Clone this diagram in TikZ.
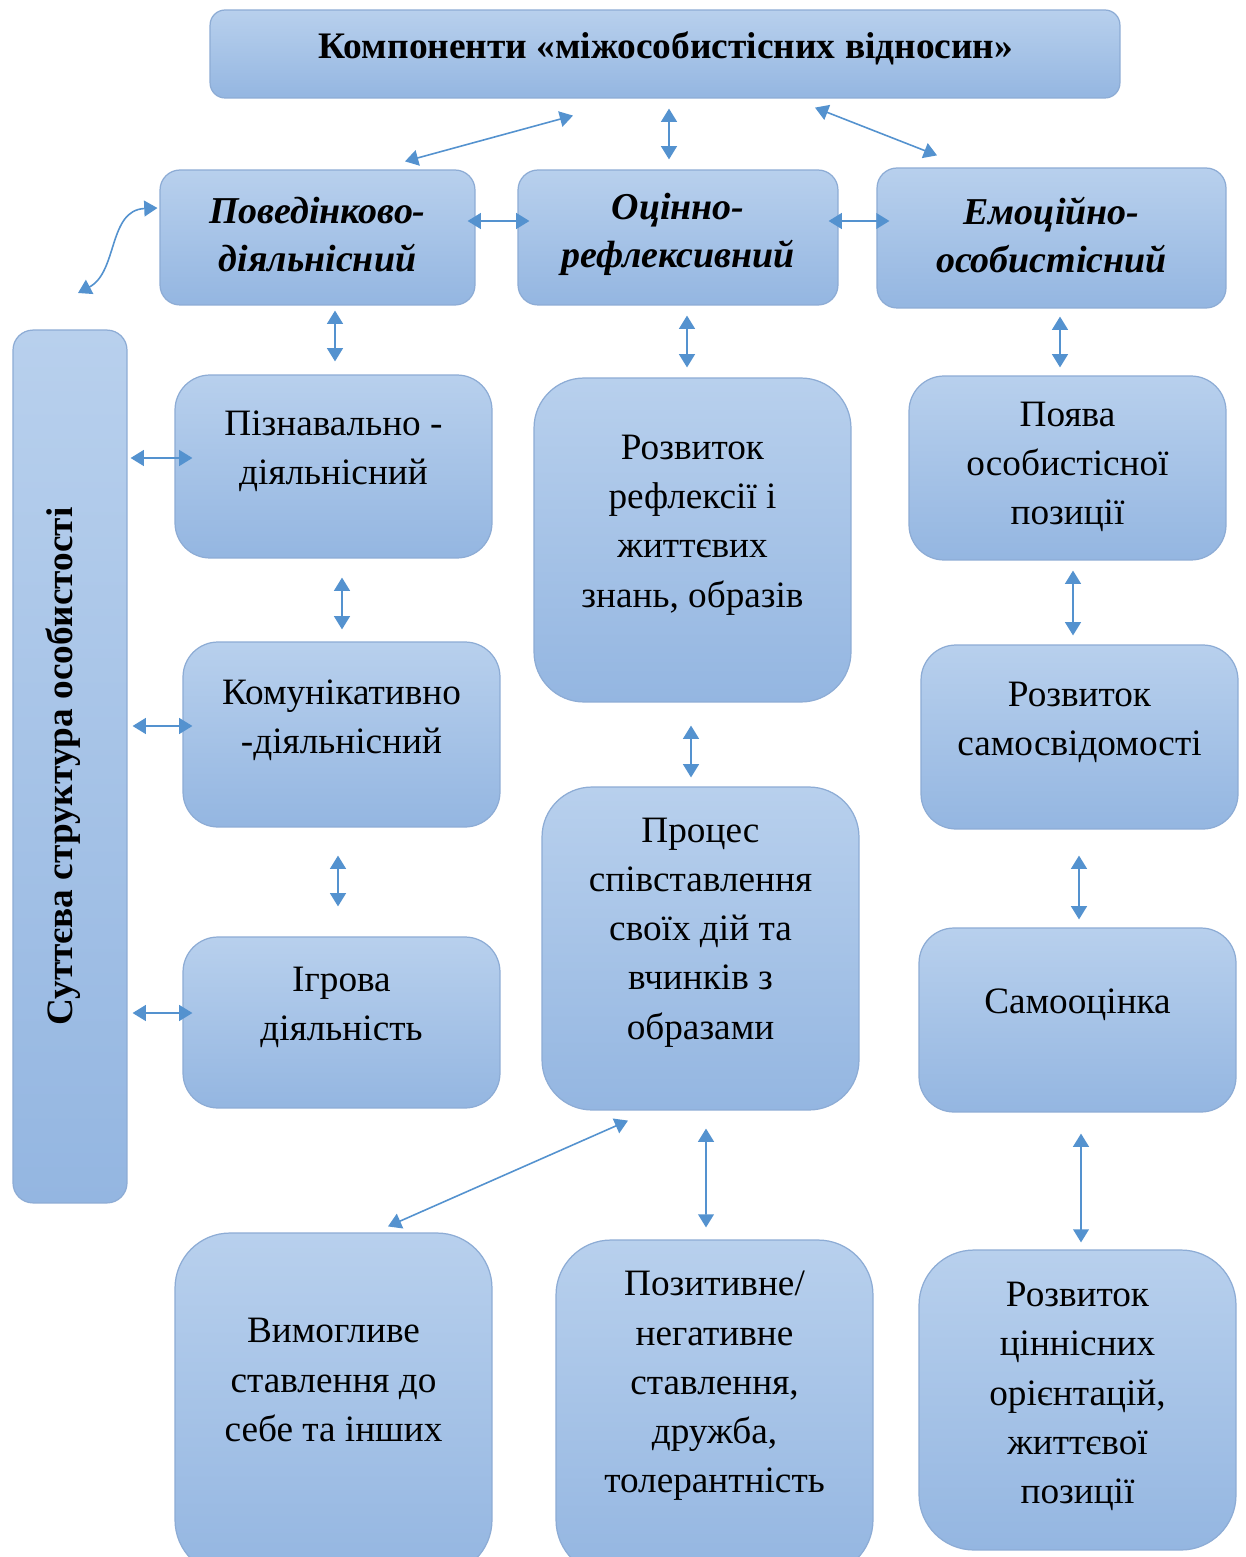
\documentclass[tikz,border=0pt]{standalone}
\usepackage{fontspec}
\setmainfont{Liberation Serif}
\usetikzlibrary{arrows.meta,calc}
\definecolor{boxtop}{RGB}{184,208,237}
\definecolor{boxbot}{RGB}{148,182,225}
\definecolor{boxline}{RGB}{141,172,213}
\definecolor{arrcol}{RGB}{84,146,207}
\tikzset{
  box/.style={draw=boxline, line width=0.7pt, top color=boxtop, bottom color=boxbot,
    rounded corners=#1, inner sep=0pt},
  box/.default=0.7cm,
  txt/.style={align=center, text=black, inner sep=0pt, font=\fontsize{21.2}{28}\selectfont},
  hd/.style={align=center, text=black, inner sep=0pt, font=\fontsize{21.6}{27.3}\selectfont\bfseries\itshape},
  arr/.style={draw=arrcol, line width=0.9pt,
    {Triangle[width=9pt,length=7.5pt]}-{Triangle[width=9pt,length=7.5pt]}},
}
\begin{document}
\begin{tikzpicture}[x=0.02cm,y=-0.02cm]
\clip (0,0) rectangle (1245,1557);
\fill[white] (0,0) rectangle (1245,1557);
% boxes
\node[box=0.3cm, minimum width=18.2cm, minimum height=1.76cm] (top) at (665,54) {};
\node[box=0.4cm, minimum width=6.3cm, minimum height=2.7cm] (pov) at (317.5,237.5) {};
\node[box=0.4cm, minimum width=6.4cm, minimum height=2.7cm] (ocin) at (678,237.5) {};
\node[box=0.4cm, minimum width=6.98cm, minimum height=2.8cm] (emo) at (1051.5,238) {};
\node[box=0.4cm, minimum width=2.28cm, minimum height=17.46cm] (bar) at (70,766.5) {};
\node[box, minimum width=6.34cm, minimum height=3.66cm] (piz) at (333.5,466.5) {};
\node[box, minimum width=6.34cm, minimum height=3.7cm] (kom) at (341.5,734.5) {};
\node[box, minimum width=6.34cm, minimum height=3.42cm] (igr) at (341.5,1022.5) {};
\node[box=1cm, minimum width=6.34cm, minimum height=6.48cm] (refl) at (692.5,540) {};
\node[box=1cm, minimum width=6.34cm, minimum height=6.46cm] (proc) at (700.5,948.5) {};
\node[box, minimum width=6.34cm, minimum height=3.68cm] (poyava) at (1067.5,468) {};
\node[box, minimum width=6.34cm, minimum height=3.68cm] (samosv) at (1079.5,737) {};
\node[box, minimum width=6.34cm, minimum height=3.68cm] (samooc) at (1077.5,1020) {};
\node[box=1.1cm, minimum width=6.34cm, minimum height=6.84cm] (vym) at (333.5,1404) {};
\node[box=1.1cm, minimum width=6.34cm, minimum height=6.7cm] (poz) at (714.5,1407.5) {};
\node[box=1.1cm, minimum width=6.34cm, minimum height=6.0cm] (cinn) at (1077.5,1400) {};
% texts
\node[txt, font=\fontsize{21.3}{27}\selectfont\bfseries] (top-t) at ($(top.center)+(1,-6)$) {Компоненти «міжособистісних відносин»};
\node[hd] (pov-t) at ($(pov.center)+(0,-3)$) {Поведінково-\\діяльнісний};
\node[hd] (ocin-t) at ($(ocin.center)+(0,-3)$) {Оцінно-\\рефлексивний};
\node[hd] (emo-t) at ($(emo.center)+(0,-3)$) {Емоційно-\\особистісний};
\node[txt, rotate=90, font=\fontsize{21.2}{24}\selectfont\bfseries] (bar-t) at ($(bar.center)+(-7,0)$) {Суттєва структура особистості};
\node[txt] (piz-t) at ($(piz.center)+(0,-15)$) {Пізнавально -\\діяльнісний};
\node[txt] (kom-t) at ($(kom.center)+(0,-14.5)$) {Комунікативно\\-діяльнісний};
\node[txt] (igr-t) at ($(igr.center)+(0,-15)$) {Ігрова\\діяльність};
\node[txt] (refl-t) at ($(refl.center)+(0,-15)$) {Розвиток\\рефлексії і\\життєвих\\знань, образів};
\node[txt] (proc-t) at ($(proc.center)+(0,-16)$) {Процес\\співставлення\\своїх дій та\\вчинків з\\образами};
\node[txt] (poyava-t) at ($(poyava.center)+(0,-1)$) {Поява\\особистісної\\позиції};
\node[txt] (samosv-t) at ($(samosv.center)+(0,-15)$) {Розвиток\\самосвідомості};
\node[txt] (samooc-t) at ($(samooc.center)+(0,-15)$) {Самооцінка};
\node[txt] (vym-t) at ($(vym.center)+(0,-24)$) {Вимогливе\\ставлення до\\себе та інших};
\node[txt] (poz-t) at ($(poz.center)+(0,-21.5)$) {Позитивне/\\негативне\\ставлення,\\дружба,\\толерантність};
\node[txt] (cinn-t) at ($(cinn.center)+(0,-3.5)$) {Розвиток\\ціннісних\\орієнтацій,\\життєвої\\позиції};
% connectors
\draw[arr] ($(top.south)+(-92,17)$) -- ($(pov.north)+(87.5,-8)$);
\draw[arr] ($(top.south)+(4,10)$) -- ($(ocin.north)+(-9,-10)$);
\draw[arr] ($(top.south)+(150,9)$) -- ($(emo.north)+(-114.5,-12)$);
\draw[arr] ($(pov.east)+(-8,-16.5)$) -- ($(ocin.west)+(12,-16.5)$);
\draw[arr] ($(ocin.east)+(-10,-16.5)$) -- ($(emo.west)+(13,-17)$);
\coordinate (cfree) at (78,293);
\draw[arr] (cfree) .. controls (118,272) and (108,210) .. ($(pov.west)+(-2,-29.5)$);
\draw[arr] ($(pov.south)+(17.5,5)$) -- ($(piz.north)+(1.5,-13)$);
\draw[arr] ($(ocin.south)+(9,10)$) -- ($(refl.north)+(-5.5,-10)$);
\draw[arr] ($(emo.south)+(8.5,8)$) -- ($(poyava.north)+(-7.5,-8)$);
\draw[arr] ($(bar.east |- piz.west)+(3,-8.5)$) -- ($(piz.west)+(18,-8.5)$);
\draw[arr] ($(bar.east |- kom.west)+(5,-8.5)$) -- ($(kom.west)+(10,-8.5)$);
\draw[arr] ($(bar.east |- igr.west)+(5,-9.5)$) -- ($(igr.west)+(10,-9.5)$);
\draw[arr] ($(piz.south)+(8.5,19)$) -- ($(kom.north)+(0.5,-12)$);
\draw[arr] ($(kom.south)+(-3.5,28)$) -- ($(igr.north)+(-3.5,-30)$);
\draw[arr] ($(refl.south)+(-1.5,23)$) -- ($(proc.north)+(-9.5,-9)$);
\draw[arr] ($(poyava.south)+(5.5,10)$) -- ($(samosv.north)+(-6.5,-9)$);
\draw[arr] ($(samosv.south)+(-0.5,26)$) -- ($(samooc.north)+(1.5,-8)$);
\draw[arr] ($(samooc.south)+(3.5,21)$) -- ($(cinn.north)+(3.5,-7)$);
\draw[arr] ($(proc.south)+(-72.5,10)$) -- ($(vym.north)+(54.5,-6)$);
\draw[arr] ($(proc.south)+(5.5,18)$) -- ($(poz.north)+(-8.5,-12)$);
\end{tikzpicture}
\end{document}
